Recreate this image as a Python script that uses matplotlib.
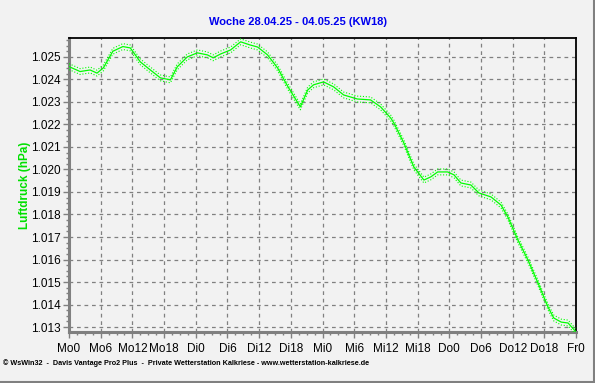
import numpy as np
import matplotlib.pyplot as plt
from matplotlib.lines import Line2D
from matplotlib.ticker import MultipleLocator, FormatStrFormatter

# Stunden seit Mo 0 Uhr und Luftdruck (Werte * 1000 hPa wie in WsWin)
stunden = [0, 2.1, 4.0, 5.3, 6.5, 8.3, 10.2, 11.6, 13.5, 15.4, 17.3, 19.2, 20.5,
           22.4, 24.3, 26.2, 27.3, 28.7, 30.6, 32.5, 34.3, 35.7, 37.6, 39.5,
           41.4, 43.8, 45.2, 46.3, 48.2, 50.1, 52.0, 54.6, 57.1, 59.0, 60.9,
           61.5, 63.4, 65.3, 67.2, 68.5, 69.8, 71.7, 72.9, 74.2, 76.1, 77.6,
           79.9, 81.8, 83.1, 85.0, 86.9, 88.8, 90.7, 91.8, 93.2, 94.5, 96.0]
druck = [1.02457, 1.02435, 1.02442, 1.02428, 1.02451, 1.02525, 1.02546, 1.02540,
         1.02478, 1.02442, 1.02407, 1.02398, 1.02456, 1.02500, 1.02518, 1.02509,
         1.02496, 1.02513, 1.02531, 1.02567, 1.02553, 1.02544, 1.02509, 1.02451,
         1.02370, 1.02278, 1.02353, 1.02376, 1.02389, 1.02367, 1.02331, 1.02313,
         1.02309, 1.02278, 1.02229, 1.02207, 1.02118, 1.02011, 1.01953, 1.01967,
         1.01989, 1.01989, 1.01976, 1.01940, 1.01931, 1.01896, 1.01878, 1.01842,
         1.01789, 1.01687, 1.01598, 1.01496, 1.01389, 1.01340, 1.01322, 1.01318,
         1.01278]
# Min/Max-Huellkurven (ca. +-0.00013 um den Mittelwert)
spanne = 0.00013

x_labels = ['Mo0', 'Mo6', 'Mo12', 'Mo18', 'Di0', 'Di6', 'Di12', 'Di18',
            'Mi0', 'Mi6', 'Mi12', 'Mi18', 'Do0', 'Do6', 'Do12', 'Do18', 'Fr0']

plt.rcParams['font.family'] = ['Liberation Sans', 'DejaVu Sans']

bg = '#f2f2f2'
fig = plt.figure(figsize=(5.95, 3.83), dpi=100, facecolor=bg)
ax = fig.add_axes([69 / 595, 1 - 332 / 383, 507 / 595, 294 / 383])
ax.set_facecolor(bg)

d = np.array(druck)
ax.plot(stunden, d, color='#00ff00', linewidth=0.9, zorder=3)
ax.plot(stunden, d + spanne, color='#00ff00', linewidth=0.8, linestyle=(0, (1, 1.6)), zorder=3)
ax.plot(stunden, d - spanne, color='#00ff00', linewidth=0.8, linestyle=(0, (1, 1.6)), zorder=3)

ax.set_xlim(0, 96)
ax.set_ylim(1.01278, 1.02584)
ax.set_xticks(np.arange(0, 97, 6))
ax.set_xticklabels(x_labels)
ax.xaxis.set_minor_locator(MultipleLocator(1.5))
ax.yaxis.set_major_locator(MultipleLocator(0.001))
ax.yaxis.set_minor_locator(MultipleLocator(0.00025))
ax.yaxis.set_major_formatter(FormatStrFormatter('%.3f'))

ax.grid(True, which='major', color='#808080', linestyle=(0, (3, 3)), linewidth=0.9)
ax.tick_params(which='major', length=4, width=1, color='#808080', labelsize=8.5,
               labelcolor='black', pad=2)
ax.tick_params(which='minor', length=2, width=1, color='#808080')
ax.tick_params(axis='x', pad=4)

for s in ['left', 'bottom']:
    ax.spines[s].set_color('#808080')
    ax.spines[s].set_linewidth(2.2)
for s in ['top', 'right']:
    ax.spines[s].set_color('black')
    ax.spines[s].set_linewidth(1.3)

fig.text(298 / 595, 1 - 22 / 383, 'Woche 28.04.25 - 04.05.25 (KW18)', color='#0000ee',
         fontsize=8, fontweight='bold', ha='center', va='center')
fig.text(25 / 595, 1 - 185 / 383, 'Luftdruck (hPa)', color='#00e000', fontsize=8.5,
         fontweight='bold', rotation=90, ha='center', va='center')
fig.text(3 / 595, 1 - 363 / 383,
         '\u00a9 WsWin32  -  Davis Vantage Pro2 Plus  -  Private Wetterstation Kalkriese - www.wetterstation-kalkriese.de',
         fontsize=5.2, fontweight='bold', ha='left', va='center')

# Rahmen rechts und unten
fig.add_artist(Line2D([593.5 / 595, 593.5 / 595], [0, 1], color='#808080', linewidth=1.5))
fig.add_artist(Line2D([0, 1], [1.5 / 383, 1.5 / 383], color='#808080', linewidth=1.5))

fig.savefig('out.png', dpi=100, facecolor=bg)
